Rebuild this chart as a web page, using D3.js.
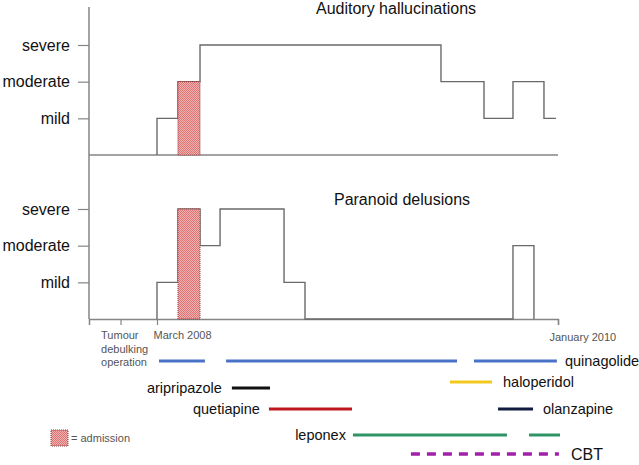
<!DOCTYPE html>
<html>
<head>
<meta charset="utf-8">
<script src="https://cdn.jsdelivr.net/npm/d3@7"></script>
<style>
  body { margin: 0; background: #fff; }
  svg { display: block; font-family: "Liberation Sans", Arial, sans-serif; }
</style>
</head>
<body>
<div id="chart"></div>
<script>
// months counted from March 2008 (0) to January 2010 (22)
const levelNames = ['mild', 'moderate', 'severe'];
const xTickMonths = [-2, 0, 22];
const xTickLabels = [['Tumour', 'debulking', 'operation'], ['March 2008'], ['January 2010']];

const admission = [1.15, 2.36];

const halluMonths = [0, 0, 1.15, 2.36, 15.58, 17.94, 19.53, 21.23, 21.89];
const halluLevels = [0, 1, 2, 3, 2, 1, 2, 1, 1];

const paraMonths = [0, 0, 1.15, 2.36, 3.46, 6.97, 8.12, 19.53, 20.68];
const paraLevels = [0, 1, 3, 2, 3, 1, 0, 2, 0];

const medNames = ['quinagolide', 'aripripazole', 'haloperidol', 'quetiapine', 'olanzapine', 'leponex', 'CBT'];
const medPeriods = [
  [[0.11, 2.63], [3.79, 16.46], [17.39, 21.94]],
  [[4.11, 6.20]],
  [[16.07, 18.38]],
  [[6.14, 10.70]],
  [[18.71, 20.63]],
  [[10.75, 19.20], [20.41, 22.11]],
  [[13.93, 22.05]]
];

const width = 639, height = 465;
const svg = d3.select('#chart').append('svg')
  .attr('width', width).attr('height', height);

const defs = svg.append('defs');
const pat = defs.append('pattern')
  .attr('id', 'hatch').attr('patternUnits', 'userSpaceOnUse')
  .attr('width', 2).attr('height', 2);
pat.append('rect').attr('width', 2).attr('height', 2).attr('fill', '#f2b2b2');
pat.append('rect').attr('width', 1).attr('height', 1).attr('fill', '#dc7474');
pat.append('rect').attr('x', 1).attr('y', 1).attr('width', 1).attr('height', 1).attr('fill', '#dc7474');

const x = d3.scaleLinear().domain([-3.73, 22]).range([89, 558]);
const yTop = d3.scaleLinear().domain([0, 3]).range([155, 45]);
const yBot = d3.scaleLinear().domain([0, 3]).range([319, 209]);

const axisColor = '#858585';
const stepColor = '#6a6a6a';

// y axes (one continuous spine)
svg.append('line')
  .attr('x1', x(-3.73)).attr('x2', x(-3.73))
  .attr('y1', 7).attr('y2', yBot(0))
  .attr('stroke', axisColor).attr('stroke-width', 1.5);

[yTop, yBot].forEach(y => {
  const ax = svg.append('g')
    .attr('transform', `translate(${x(-3.73)},0)`)
    .call(d3.axisLeft(y).tickValues([1, 2, 3]).tickSize(11).tickPadding(8)
      .tickFormat(d => levelNames[d - 1]));
  ax.select('.domain').remove();
  ax.selectAll('line').attr('stroke', axisColor).attr('stroke-width', 1.2);
  ax.selectAll('text').attr('fill', '#111').style('font-size', '16px')
    .style('font-family', '"Liberation Sans", Arial, sans-serif');
});

// top baseline
svg.append('line')
  .attr('x1', x(-3.73)).attr('x2', x(22))
  .attr('y1', yTop(0)).attr('y2', yTop(0))
  .attr('stroke', axisColor).attr('stroke-width', 1.5);

// bottom x axis
const xAx = svg.append('g')
  .attr('transform', `translate(0,${yBot(0)})`)
  .call(d3.axisBottom(x).tickValues(xTickMonths).tickSize(6).tickFormat(''));
xAx.select('.domain').attr('stroke', axisColor).attr('stroke-width', 1.5);
xAx.selectAll('line').attr('stroke', axisColor).attr('stroke-width', 1.2);

const labelDx = [-20, -4, -9];
const labelDy = [20, 20, 22];
xAx.selectAll('.tick').each(function (d, i) {
  const t = d3.select(this).append('text')
    .attr('x', labelDx[i]).attr('y', labelDy[i])
    .attr('text-anchor', 'start').attr('fill', '#555')
    .style('font-size', '11px');
  xTickLabels[i].forEach((s, j) => {
    t.append('tspan').attr('x', labelDx[i]).attr('dy', j === 0 ? 0 : 13.5).text(s);
  });
});

// step lines
function stepLine(months, levels, y) {
  const pts = months.map((m, i) => [x(m), y(levels[i])]);
  svg.append('path')
    .attr('d', d3.line().curve(d3.curveStepAfter)(pts))
    .attr('fill', 'none').attr('stroke', stepColor).attr('stroke-width', 1.4);
}
stepLine(halluMonths, halluLevels, yTop);
stepLine(paraMonths, paraLevels, yBot);

// admission bars
[[yTop, 2], [yBot, 3]].forEach(([y, lvl]) => {
  svg.append('rect')
    .attr('x', x(admission[0])).attr('width', x(admission[1]) - x(admission[0]))
    .attr('y', y(lvl)).attr('height', y(0) - y(lvl))
    .attr('fill', 'url(#hatch)')
    .attr('stroke', '#8c3a3a').attr('stroke-width', 1).attr('stroke-dasharray', '1,1');
});

// titles
svg.append('text').attr('x', 396).attr('y', 14).attr('text-anchor', 'middle')
  .attr('fill', '#111').style('font-size', '16px').text('Auditory hallucinations');
svg.append('text').attr('x', 402).attr('y', 205).attr('text-anchor', 'middle')
  .attr('fill', '#111').style('font-size', '16px').text('Paranoid delusions');

// medication rows (layout)
const medColor = {
  quinagolide: '#4a72c8', aripripazole: '#111111', haloperidol: '#f2c81e',
  quetiapine: '#c0161e', olanzapine: '#101c40', leponex: '#2e9466', CBT: '#a020a8'
};
const medY = { quinagolide: 361, aripripazole: 388, haloperidol: 382, quetiapine: 409, olanzapine: 409, leponex: 435, CBT: 454 };
const medLeft = { aripripazole: true, quetiapine: true, leponex: true };
const medGap = { quinagolide: 8, aripripazole: 10, haloperidol: 11, quetiapine: 9, olanzapine: 10, leponex: 7, CBT: 12 };

medNames.forEach((name, i) => {
  const periods = medPeriods[i];
  const g = svg.append('g');
  g.selectAll('line').data(periods).enter().append('line')
    .attr('x1', d => x(d[0])).attr('x2', d => x(d[1]))
    .attr('y1', medY[name]).attr('y2', medY[name])
    .attr('stroke', medColor[name])
    .attr('stroke-width', name === 'CBT' ? 3.5 : 3)
    .attr('stroke-dasharray', name === 'CBT' ? '9,7' : null);
  const left = medLeft[name];
  const lx = left ? x(periods[0][0]) - medGap[name] : x(periods[periods.length - 1][1]) + medGap[name];
  g.append('text')
    .attr('x', lx).attr('y', medY[name]).attr('dy', '0.35em')
    .attr('text-anchor', left ? 'end' : 'start')
    .attr('fill', '#111')
    .style('font-size', name === 'CBT' ? '16px' : '14.5px')
    .text(name);
});

// admission legend
svg.append('rect').attr('x', 51).attr('y', 430).attr('width', 17).attr('height', 16)
  .attr('fill', 'url(#hatch)')
  .attr('stroke', '#8c3a3a').attr('stroke-width', 1).attr('stroke-dasharray', '1,1');
svg.append('text').attr('x', 71).attr('y', 438).attr('dy', '0.35em')
  .attr('fill', '#555').style('font-size', '11px').text('= admission');
</script>
</body>
</html>
